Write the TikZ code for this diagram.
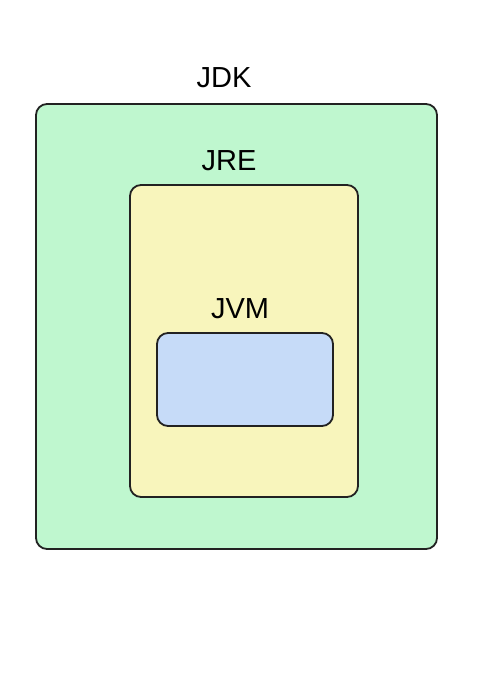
\documentclass[tikz,border=0pt]{standalone}
\usepackage{fontspec}
\setmainfont{Liberation Sans}
\usetikzlibrary{positioning}

\definecolor{jdkgreen}{HTML}{BFF7CF}
\definecolor{jreyellow}{HTML}{F8F5BC}
\definecolor{jvmblue}{HTML}{C6DBF8}
\definecolor{edge}{HTML}{222222}

\begin{document}
\begin{tikzpicture}[
  x=1pt, y=-1pt,
  layer/.style={draw=edge, line width=1.8pt, rounded corners=11pt, inner sep=0pt},
  title/.style={anchor=base, inner sep=0pt, text=black, font=\fontsize{29}{34}\selectfont}
]
\useasboundingbox (0,0) rectangle (479,687);
\node[layer, fill=jdkgreen,  minimum width=401pt, minimum height=445pt] (jdk) at (236.5,326.5) {};
\node[layer, fill=jreyellow, minimum width=228pt, minimum height=312pt] (jre) at (244,341) {};
\node[layer, fill=jvmblue,   minimum width=176pt, minimum height=93pt]  (jvm) at (245,379.5) {};

\node[title] (jdklabel) at (224,88)  {JDK};
\node[title] (jrelabel) at (229,171) {JRE};
\node[title] (jvmlabel) at (240,318) {JVM};
\end{tikzpicture}
\end{document}
